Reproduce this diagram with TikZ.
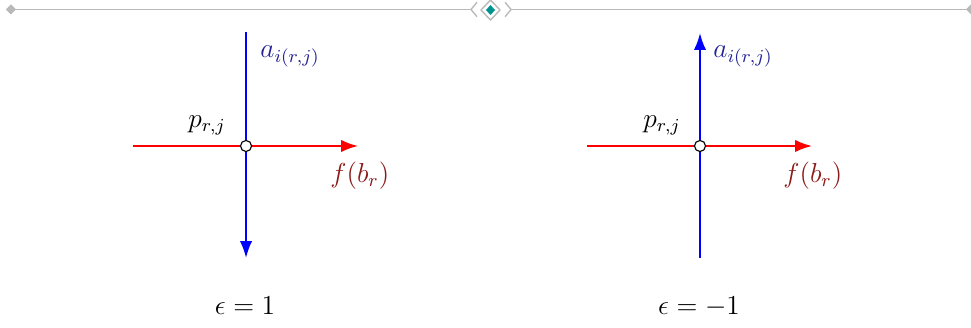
\documentclass[tikz,border=0pt]{standalone}
\usepackage{amsmath}
\usepackage{amssymb}
\usepackage{tikz}
\usetikzlibrary{arrows.meta,positioning}

\definecolor{labelblue}{RGB}{35,35,150}
\definecolor{labelred}{RGB}{140,25,25}
\definecolor{ornteal}{RGB}{0,145,145}

\begin{document}
\begin{tikzpicture}[
    axis/.style={line width=0.9pt},
    arrow/.style={axis, -{Latex[length=0.26cm, width=0.19cm]}},
    point/.style={circle, draw=black, fill=white, line width=0.5pt, inner sep=0pt, minimum size=0.17cm},
    lbl/.style={inner sep=0pt, font=\fontsize{12}{14}\selectfont},
    orn/.style={draw=gray!55, line width=0.6pt},
    orndot/.style={fill=gray!55}
  ]
    \useasboundingbox (0,0) rectangle (14.938,-5.031);
    % ornament
    \draw[orn] (0.169,-0.146) -- (7.246,-0.146);
    \draw[orn] (7.862,-0.146) -- (14.938,-0.146);
    \fill[orndot] (0.169,-0.069) -- (0.246,-0.146) -- (0.169,-0.223) -- (0.092,-0.146) -- cycle;
    \fill[orndot] (14.938,-0.069) -- (15.015,-0.146) -- (14.938,-0.223) -- (14.861,-0.146) -- cycle;
    \draw[orn] (7.338,-0.035) -- (7.246,-0.146) -- (7.338,-0.257);
    \draw[orn] (7.770,-0.035) -- (7.862,-0.146) -- (7.770,-0.257);
    \draw[orn] (7.546,0.0) -- (7.692,-0.154) -- (7.546,-0.308) -- (7.400,-0.154) -- cycle;
    \fill[ornteal] (7.546,-0.077) -- (7.615,-0.154) -- (7.546,-0.231) -- (7.477,-0.154) -- cycle;
    % epsilon = 1
    \coordinate (topL) at (3.785,-0.492);
    \coordinate (botL) at (3.785,-3.969);
    \coordinate (leftL) at (2.046,-2.246);
    \coordinate (rightL) at (5.508,-2.246);
    \draw[arrow, blue] (topL) -- (botL);
    \draw[arrow, red] (leftL) -- (rightL);
    \node[point] (pL) at (3.785,-2.246) {};
    \node[lbl, anchor=base west, text=labelblue] (aL) at (4.0,-0.892) {$a_{i(r,j)}$};
    \node[lbl, anchor=base west, text=labelred] (fL) at (5.077,-2.8) {$f(b_r)$};
    \node[lbl, anchor=base west] (pLabelL) at (2.892,-1.954) {$p_{r,j}$};
    \node[lbl, anchor=base] (epsL) at (3.769,-4.846) {$\epsilon = 1$};
    % epsilon = -1
    \coordinate (topR) at (10.769,-0.508);
    \coordinate (botR) at (10.769,-3.969);
    \coordinate (leftR) at (9.031,-2.246);
    \coordinate (rightR) at (12.492,-2.246);
    \draw[arrow, blue] (botR) -- (topR);
    \draw[arrow, red] (leftR) -- (rightR);
    \node[point] (pR) at (10.769,-2.246) {};
    \node[lbl, anchor=base west, text=labelblue] (aR) at (10.969,-0.892) {$a_{i(r,j)}$};
    \node[lbl, anchor=base west, text=labelred] (fR) at (12.046,-2.8) {$f(b_r)$};
    \node[lbl, anchor=base west] (pLabelR) at (9.892,-1.954) {$p_{r,j}$};
    \node[lbl, anchor=base] (epsR) at (10.754,-4.846) {$\epsilon = -1$};
  \end{tikzpicture}
\end{document}
